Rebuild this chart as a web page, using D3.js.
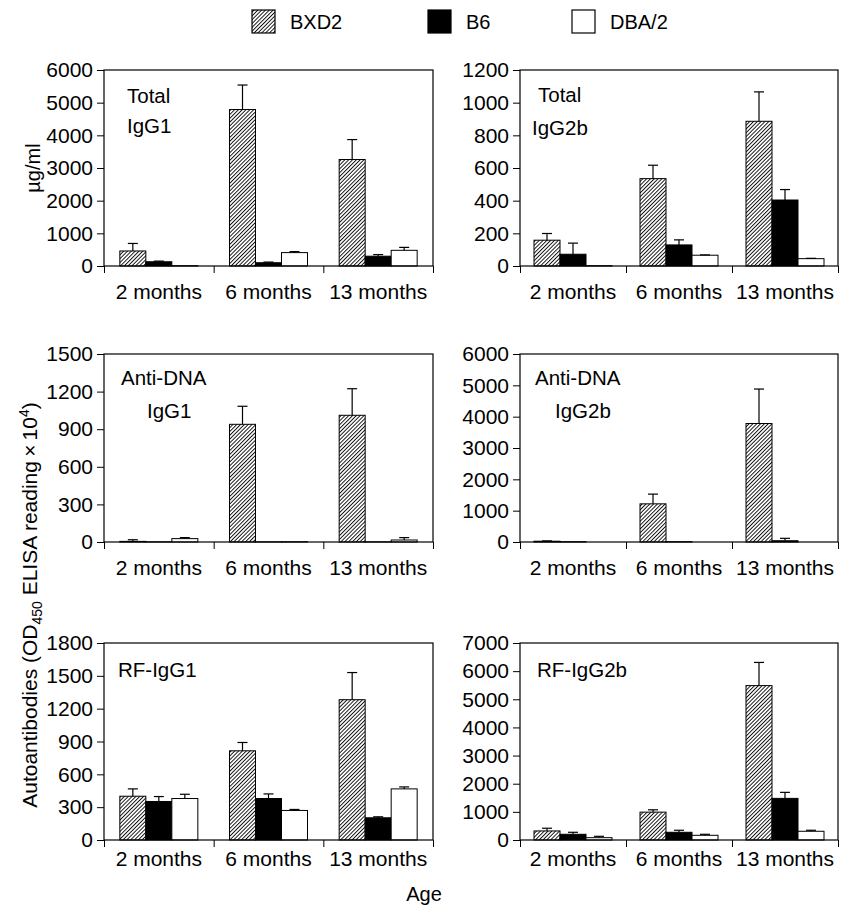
<!DOCTYPE html>
<html>
<head>
<meta charset="utf-8">
<script src="https://cdn.jsdelivr.net/npm/d3@7"></script>
<style>
  body { margin: 0; background: #fff; }
  svg { font-family: Arial, "Liberation Sans", Helvetica, sans-serif; }
  .axis text { font-size: 21px; fill: #000; }
  .axis line, .axis path { stroke: #000; }
</style>
</head>
<body>
<div class="chart"></div>
<script>
// DATA ------------------------------------**
const ages = ['2 months', '6 months', '13 months'];
const strains = ['BXD2', 'B6', 'DBA/2'];

// Total IgG1 (ug/ml)
const igg1Mean = [[460, 4790, 3260], [130, 100, 300], [10, 410, 480]];
const igg1Err  = [[230, 750, 610], [20, 20, 50], [0, 30, 90]];
// Total IgG2b (ug/ml)
const igg2bMean = [[158, 535, 886], [72, 129, 404], [2, 66, 45]];
const igg2bErr  = [[41, 82, 180], [68, 31, 64], [0, 2, 2]];
// Anti-DNA IgG1
const dnaG1Mean = [[5, 939, 1011], [1, 1, 1], [27, 2, 16]];
const dnaG1Err  = [[13, 144, 212], [0, 0, 0], [8, 0, 19]];
// Anti-DNA IgG2b
const dnaG2bMean = [[25, 1218, 3782], [8, 8, 40], [0, 0, 0]];
const dnaG2bErr  = [[10, 310, 1100], [0, 0, 77], [0, 0, 0]];
// RF-IgG1
const rfG1Mean = [[400, 815, 1282], [352, 379, 203], [379, 270, 467]];
const rfG1Err  = [[67, 76, 248], [45, 42, 9], [39, 9, 18]];
// RF-IgG2b
const rfG2bMean = [[322, 990, 5486], [203, 274, 1479], [83, 167, 310]];
const rfG2bErr  = [[96, 83, 823], [71, 72, 214], [48, 36, 36]];

const yMax  = [6000, 1200, 1500, 6000, 1800, 7000];
const yStep = [1000, 200, 300, 1000, 300, 1000];
const panelLabels = [['Total', 'IgG1'], ['Total', 'IgG2b'], ['Anti-DNA', 'IgG1'],
                     ['Anti-DNA', 'IgG2b'], ['RF-IgG1'], ['RF-IgG2b']];

// LAYOUT ----------------------------------**
const W = 844, H = 909;
const cols = [[104, 433], [520, 838]];
const rows = [[70, 266], [354, 542], [643, 840]];
const labelPad = [18, 18, 11];   // gap between x axis and month labels, per row
// label positions inside each panel (x offset from left, baselines)
const labelPos = [
  {x: [23, 23], y: [103, 133]},
  {x: [18, 12], y: [102, 135]},
  {x: [17, 43], y: [385, 418]},
  {x: [15, 35], y: [385, 418]},
  {x: [14], y: [677]},
  {x: [17], y: [677]}
];

const means = [igg1Mean, igg2bMean, dnaG1Mean, dnaG2bMean, rfG1Mean, rfG2bMean];
const errs  = [igg1Err, igg2bErr, dnaG1Err, dnaG2bErr, rfG1Err, rfG2bErr];

const svg = d3.select('.chart').append('svg')
    .attr('width', W)
    .attr('height', H);

// hatch pattern for BXD2
const defs = svg.append('defs');
defs.append('pattern')
    .attr('id', 'hatch')
    .attr('patternUnits', 'userSpaceOnUse')
    .attr('width', 2.7)
    .attr('height', 2.7)
    .attr('patternTransform', 'rotate(45)')
    .call(p => {
        p.append('rect').attr('width', 2.7).attr('height', 2.7).attr('fill', '#fff');
        p.append('line')
            .attr('x1', 0.5).attr('y1', 0).attr('x2', 0.5).attr('y2', 2.7)
            .attr('stroke', '#000').attr('stroke-width', 0.9);
    });

const fills = ['url(#hatch)', '#000', '#fff'];

// PANELS ----------------------------------**
means.forEach(function(m, i) {
    const [x0, x1] = cols[i % 2];
    const row = Math.floor(i / 2);
    const [y0, y1] = rows[row];
    const g = svg.append('g');

    let xScale = d3.scaleBand()
        .domain(ages)
        .range([x0, x1]);

    let xInner = d3.scaleBand()
        .domain(strains)
        .range([0, 78])
        .padding(0);

    let yScale = d3.scaleLinear()
        .domain([0, yMax[i]])
        .range([y1, y0]);

    // y axis
    let yAxis = d3.axisLeft(yScale)
        .tickValues(d3.range(0, yMax[i] + 1, yStep[i]))
        .tickFormat(d3.format('d'))
        .tickSize(7)
        .tickSizeOuter(0)
        .tickPadding(4);

    g.append('g')
        .attr('class', 'axis y-axis')
        .attr('transform', 'translate(' + x0 + ',0)')
        .call(yAxis)
        .call(a => a.select('.domain').remove());

    // x ticks at category boundaries
    let xEdge = d3.scaleLinear().domain([0, 3]).range([x0, x1]);
    g.append('g')
        .attr('class', 'axis x-ticks')
        .attr('transform', 'translate(0,' + y1 + ')')
        .call(d3.axisBottom(xEdge).tickValues([0, 1, 2, 3]).tickFormat('').tickSize(7).tickSizeOuter(0))
        .call(a => a.select('.domain').remove());

    // x labels
    g.append('g')
        .attr('class', 'axis x-axis')
        .attr('transform', 'translate(0,' + y1 + ')')
        .call(d3.axisBottom(xScale).tickSize(0).tickPadding(labelPad[row]).tickSizeOuter(0))
        .call(a => a.select('.domain').remove())
        .call(a => a.selectAll('.tick line').remove());

    // bars
    const cells = [];
    strains.forEach((s, si) => {
        ages.forEach((a, ai) => {
            cells.push({strain: s, si: si, age: a, v: m[si][ai], e: errs[i][si][ai]});
        });
    });

    const bx = d => xScale(d.age) + (xScale.bandwidth() - 78) / 2 + xInner(d.strain);

    g.selectAll('.bar')
        .data(cells)
        .enter()
        .append('rect')
        .attr('class', 'bar')
        .attr('x', bx)
        .attr('y', d => yScale(d.v))
        .attr('width', xInner.bandwidth())
        .attr('height', d => y1 - yScale(d.v))
        .attr('fill', d => fills[d.si])
        .attr('stroke', '#000')
        .attr('stroke-width', 1);

    // error bars (upper only)
    const errCells = cells.filter(d => d.e > 0);
    const cx = d => bx(d) + xInner.bandwidth() / 2;
    g.selectAll('.err')
        .data(errCells)
        .enter()
        .append('line')
        .attr('x1', cx).attr('x2', cx)
        .attr('y1', d => yScale(d.v))
        .attr('y2', d => yScale(d.v + d.e))
        .attr('stroke', '#000').attr('stroke-width', 1.2);
    g.selectAll('.cap')
        .data(errCells)
        .enter()
        .append('line')
        .attr('x1', d => cx(d) - 5).attr('x2', d => cx(d) + 5)
        .attr('y1', d => yScale(d.v + d.e))
        .attr('y2', d => yScale(d.v + d.e))
        .attr('stroke', '#000').attr('stroke-width', 1.2);

    // frame
    g.append('rect')
        .attr('x', x0).attr('y', y0)
        .attr('width', x1 - x0).attr('height', y1 - y0)
        .attr('fill', 'none')
        .attr('stroke', '#000')
        .attr('stroke-width', 1.2);

    // panel label
    panelLabels[i].forEach((t, li) => {
        g.append('text')
            .attr('x', x0 + labelPos[i].x[li])
            .attr('y', labelPos[i].y[li])
            .attr('font-size', 20.5)
            .text(t);
    });
});

// AXIS TITLES -----------------------------**
svg.append('text')
    .attr('transform', 'translate(40,168) rotate(-90)')
    .attr('text-anchor', 'middle')
    .attr('font-size', 20)
    .text('\u00b5g/ml');

const yTitle = svg.append('text')
    .attr('transform', 'translate(37,605) rotate(-90)')
    .attr('text-anchor', 'middle')
    .attr('font-size', 21);
yTitle.append('tspan').text('Autoantibodies (OD');
yTitle.append('tspan').attr('font-size', 14).attr('dy', 5).text('450');
yTitle.append('tspan').attr('dy', -5).text(' ELISA reading\u2009\u00d7\u200910');
yTitle.append('tspan').attr('font-size', 14).attr('dy', -8).text('4');
yTitle.append('tspan').attr('dy', 8).text(')');

svg.append('text')
    .attr('x', 424)
    .attr('y', 901)
    .attr('text-anchor', 'middle')
    .attr('font-size', 20)
    .text('Age');

// LEGEND ----------------------------------**
const legendX = [252, 428, 572];
const legend = svg.append('g').attr('class', 'legend');
strains.forEach((s, si) => {
    legend.append('rect')
        .attr('x', legendX[si]).attr('y', 10)
        .attr('width', 23).attr('height', 23)
        .attr('fill', fills[si])
        .attr('stroke', '#000')
        .attr('stroke-width', 1.2);
    legend.append('text')
        .attr('x', legendX[si] + 38)
        .attr('y', 29)
        .attr('font-size', 20)
        .text(s);
});
</script>
</body>
</html>
